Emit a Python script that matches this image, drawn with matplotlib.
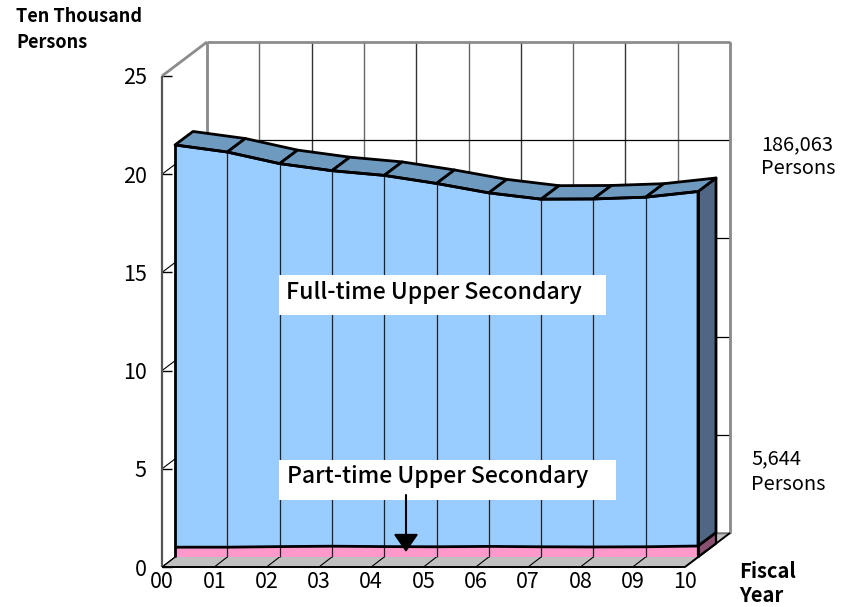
import matplotlib
matplotlib.use("Agg")
import matplotlib.pyplot as plt
from matplotlib.patches import Polygon, Rectangle, FancyArrowPatch

plt.rcParams['font.family'] = ['Noto Sans CJK JP', 'DejaVu Sans']

fiscal_years = ["00", "01", "02", "03", "04", "05", "06", "07", "08", "09", "10"]
part_time = [0.50, 0.50, 0.53, 0.55, 0.53, 0.52, 0.54, 0.52, 0.51, 0.52, 0.56]
full_time = [20.48, 20.12, 19.50, 19.12, 18.90, 18.50, 18.00, 17.70, 17.72, 17.80, 18.05]
y_ticks = [0, 5, 10, 15, 20, 25]

W, H = 847, 607
X0, X1, Y0, Y1 = 162, 685, 567, 76
fig = plt.figure(figsize=(W / 100, H / 100), dpi=100)
ax = fig.add_axes([X0 / W, 1 - Y0 / H, (X1 - X0) / W, (Y0 - Y1) / H])
ax.set_xlim(0, 10)
ax.set_ylim(0, 25)
ax.patch.set_visible(False)

PX = (X1 - X0) / 10
PY = (Y0 - Y1) / 25


def shift(x, y, dx, dy):
    """Move a data point by a depth offset in screen pixels."""
    return x + dx / PX, y + dy / PY


def wall_pt(x, y):
    return shift(x, y, 45, 34)


def front_pt(x, y):
    return shift(x, y, 13, 10)


def rear_pt(x, y):
    return shift(x, y, 31, 23.5)


def line(pts, color="black", lw=1.0, z=2):
    ax.plot([p[0] for p in pts], [p[1] for p in pts], color=color, lw=lw,
            clip_on=False, zorder=z, solid_capstyle="butt")


def poly(pts, face, edge="none", lw=0, z=3):
    ax.add_patch(Polygon(pts, closed=True, facecolor=face, edgecolor=edge,
                         linewidth=lw, clip_on=False, zorder=z, joinstyle="round"))


n = len(fiscal_years)
xs = list(range(n))
top_part = part_time
top_all = [p + f for p, f in zip(part_time, full_time)]

# Floor
poly([(0, 0), (10, 0), wall_pt(10, 0), wall_pt(0, 0)], "#c0c0c0", z=1)

# Back wall and side wall grid
for x in xs:
    line([wall_pt(x, 0), wall_pt(x, 25)], "#666666" if x % 2 else "#333333", 1.0, 1.5)
    line([(x, 0), front_pt(x, 0)], "black", 0.8, 1.5)
for t in y_ticks[:-1]:
    line([wall_pt(0, t), wall_pt(10, t)], "black", 0.9, 1.5)
    line([(0, t), wall_pt(0, t)], "black", 0.8, 1.5)
line([wall_pt(0, 0), wall_pt(0, 25)], "#8c8c8c", 2, 1.8)
line([wall_pt(10, 0), wall_pt(10, 25)], "#8c8c8c", 2, 1.8)
line([wall_pt(0, 25), wall_pt(10, 25)], "#8c8c8c", 2, 1.8)
line([(0, 25), wall_pt(0, 25)], "#8c8c8c", 2, 1.8)
line([wall_pt(0, 0), wall_pt(10, 0)], "#8c8c8c", 1.2, 1.6)

# Axis frame
for name, sp in ax.spines.items():
    sp.set_visible(False)
line([(0, 0), (0, 25)], "#555555", 1.6, 2)
line([(0, 0), (10, 0), wall_pt(10, 0)], "black", 1.4, 2)

# Part-time band
poly([front_pt(x, 0) for x in xs] + [front_pt(x, top_part[x]) for x in reversed(xs)], "#ff99cc", z=3)
poly([front_pt(10, 0), rear_pt(10, 0), rear_pt(10, top_part[-1]), front_pt(10, top_part[-1])],
     "#8a5070", "black", 1.6, z=3)

# Full-time band
poly([front_pt(x, top_part[x]) for x in xs] + [front_pt(x, top_all[x]) for x in reversed(xs)], "#99ccff", z=3)
poly([front_pt(10, top_part[-1]), rear_pt(10, top_part[-1]), rear_pt(10, top_all[-1]), front_pt(10, top_all[-1])],
     "#4f6785", "black", 2, z=3)
for x in xs[:-1]:
    poly([front_pt(x, top_all[x]), front_pt(x + 1, top_all[x + 1]),
          rear_pt(x + 1, top_all[x + 1]), rear_pt(x, top_all[x])],
         "#6f9abf", "black", 2, z=3)
for x in xs[1:-1]:
    line([front_pt(x, 0), front_pt(x, top_all[x])], "#222222", 0.9, 3.2)
line([front_pt(0, 0), front_pt(0, top_all[0])], "black", 2, 3.4)
line([front_pt(10, 0), front_pt(10, top_all[-1])], "black", 2, 3.4)
line([front_pt(x, top_part[x]) for x in xs], "black", 2, 3.4)
line([front_pt(x, top_all[x]) for x in xs], "black", 2, 3.4)

# Ticks
ax.set_xticks(xs, fiscal_years)
ax.set_yticks(y_ticks, [str(t) for t in y_ticks])
ax.tick_params(axis="x", length=0, pad=3, labelsize=15.5)
ax.tick_params(axis="y", direction="in", length=7, width=1, color="black", pad=11, labelsize=15.5)


def ptext(px, py, s, **kw):
    fig.text(px / W, 1 - py / H, s, va="center", **kw)


def pbox(x0, y0, x1, y1):
    fig.add_artist(Rectangle((x0 / W, 1 - y1 / H), (x1 - x0) / W, (y1 - y0) / H,
                             transform=fig.transFigure, facecolor="white", edgecolor="none", zorder=4))


pbox(279, 275, 606, 315)
pbox(279, 460, 616, 500)
ptext(286, 292, "Full-time Upper Secondary", fontsize=16.6, fontweight="medium", zorder=5)
ptext(287, 477, "Part-time Upper Secondary", fontsize=16.6, fontweight="medium", zorder=5)

fig.add_artist(FancyArrowPatch(
    (406 / W, 1 - 495 / H), (406 / W, 1 - 552 / H), transform=fig.transFigure,
    arrowstyle="-|>,head_length=0.55,head_width=0.38", mutation_scale=20, color="black",
    lw=1.5, shrinkA=0, shrinkB=0, zorder=6))

ptext(16, 17, "Ten Thousand", fontsize=13, fontweight="bold")
ptext(16, 42, "Persons", fontsize=13, fontweight="bold")
ptext(761, 145, "186,063", fontsize=14.4)
ptext(761, 169, "Persons", fontsize=14.4)
ptext(751, 459, "5,644", fontsize=14.4)
ptext(751, 484, "Persons", fontsize=14.4)
ptext(739, 571, "Fiscal", fontsize=14.5, fontweight="bold")
ptext(739, 596, "Year", fontsize=14.5, fontweight="bold")

fig.savefig("out.png", dpi=100)
